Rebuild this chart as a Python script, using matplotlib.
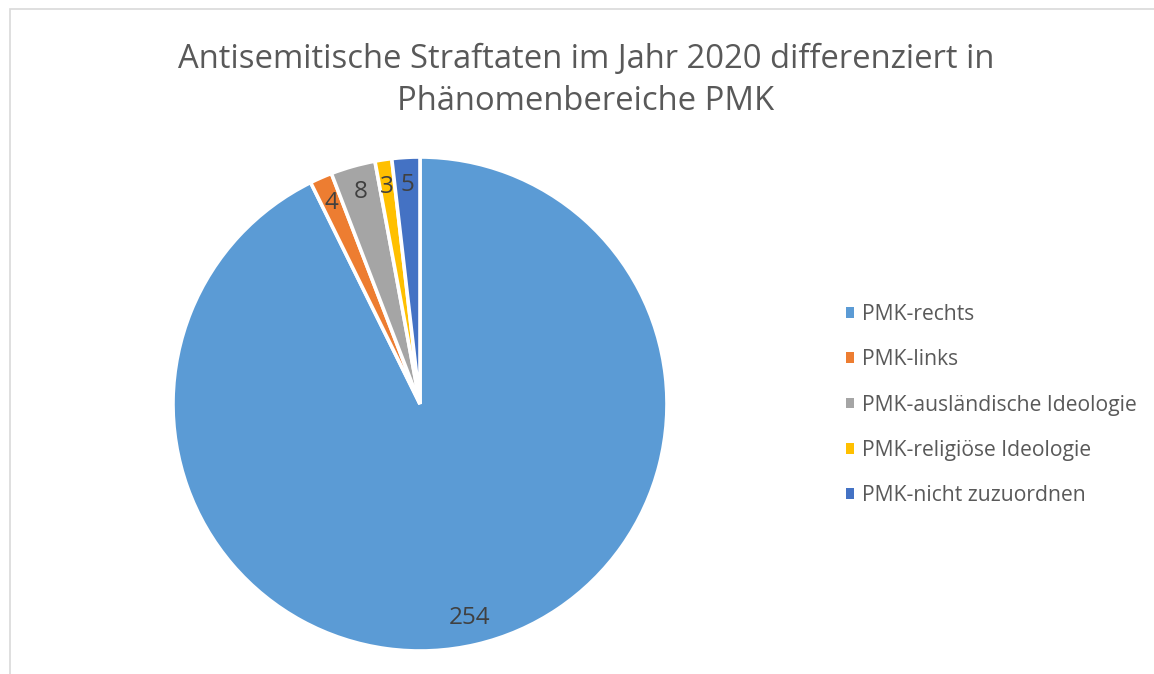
import matplotlib
matplotlib.use("Agg")
import matplotlib.pyplot as plt
from matplotlib.patches import Rectangle, Patch

categories = ["PMK-rechts", "PMK-links", "PMK-ausländische Ideologie",
              "PMK-religiöse Ideologie", "PMK-nicht zuzuordnen"]
values = [254, 4, 8, 3, 5]
colors = ["#5B9BD5", "#ED7D31", "#A5A5A5", "#FFC000", "#4472C4"]
title = "Antisemitische Straftaten im Jahr 2020 differenziert in\nPhänomenbereiche PMK"

plt.rcParams['font.family'] = ['Open Sans', 'DejaVu Sans']
W, H = 1154, 674
fig = plt.figure(figsize=(W / 100, H / 100), dpi=100)

# border
fig.patches.append(Rectangle((10 / W, -0.1), 1.2, (H - 9) / H + 0.1, transform=fig.transFigure,
                             fill=False, edgecolor="#D9D9D9", linewidth=1.2))

cx, cy, r = 420, 404, 247
ax = fig.add_axes([(cx - r) / W, (H - cy - r) / H, 2 * r / W, 2 * r / H])
ax.axis("off")

wedges, texts, autotexts = ax.pie(
    values, colors=colors, startangle=90, counterclock=False, radius=1,
    wedgeprops=dict(edgecolor="white", linewidth=2.6),
    autopct=lambda p: f"{round(p * sum(values) / 100):d}", pctdistance=0.89,
    textprops=dict(color="#404040", fontsize=17.5))
ax.set_xlim(-1, 1)
ax.set_ylim(-1, 1)

fig.text(586 / W, 1 - 80 / H, title, ha="center", va="center", fontsize=23.6,
         color="#595959", linespacing=1.36)

handles = [Patch(facecolor=c, edgecolor="none") for c in colors]
leg = fig.legend(handles, categories, loc="upper left",
                 bbox_to_anchor=(846 / W, 1 - 304 / H), frameon=False,
                 fontsize=15.2, labelcolor="#595959", handlelength=0.4,
                 handleheight=0.4, handletextpad=0.35, labelspacing=1.15,
                 borderpad=0, borderaxespad=0)

fig.savefig("out.png", dpi=100, facecolor="white")
